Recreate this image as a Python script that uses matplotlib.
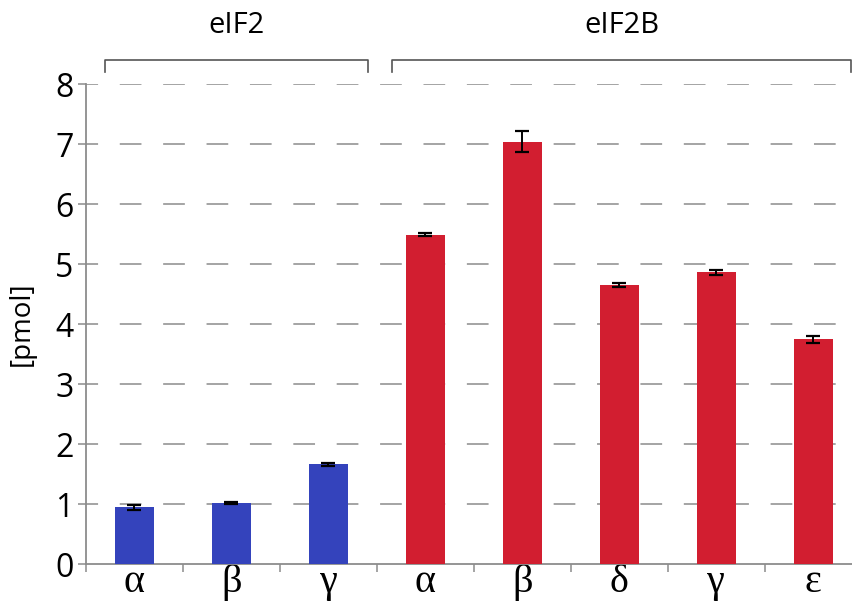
import numpy as np
import matplotlib
matplotlib.use('Agg')
import matplotlib.pyplot as plt

# data
labels = ['α', 'β', 'γ', 'α', 'β', 'δ', 'γ', 'ε']
values = [0.945, 1.02, 1.66, 5.49, 7.04, 4.65, 4.86, 3.745]
errors = [0.04, 0.02, 0.02, 0.02, 0.18, 0.035, 0.035, 0.06]
group = ['eIF2', 'eIF2', 'eIF2', 'eIF2B', 'eIF2B', 'eIF2B', 'eIF2B', 'eIF2B']

blue = '#3443BC'
red = '#D21E30'
grey = '#8c8c8c'
colors = [blue if g == 'eIF2' else red for g in group]

plt.rcParams['font.family'] = ['Open Sans', 'DejaVu Sans']

fig = plt.figure(figsize=(8.53, 6.13), dpi=100)
ax = fig.add_axes([0.1008, 0.0799, 0.8992, 0.783])

x = np.arange(len(values))
ax.bar(x, values, width=0.4, color=colors, zorder=3)
ax.errorbar(x, values, yerr=errors, fmt='none', ecolor='black',
            elinewidth=1.4, capsize=5, capthick=1.6, zorder=4)

ax.set_xlim(-0.5, 7.41)
ax.set_ylim(0, 8)
ax.set_yticks(range(0, 9))
ax.tick_params(axis='y', labelsize=23, length=6, width=1.1, color=grey, pad=3)

# category separators as x ticks, greek letters as minor labels
ax.set_xticks(np.arange(-0.5, 7.5, 1.0))
ax.set_xticklabels([])
ax.tick_params(axis='x', which='major', length=6, width=1.1, color=grey, direction='out')
ax.set_xticks(x, minor=True)
ax.set_xticklabels(labels, minor=True, fontsize=29, family=['Liberation Serif', 'DejaVu Serif'])
ax.tick_params(axis='x', which='minor', length=0, pad=0)

for sp in ['top', 'right']:
    ax.spines[sp].set_visible(False)
for sp in ['left', 'bottom']:
    ax.spines[sp].set_color(grey)
    ax.spines[sp].set_linewidth(1.3)

# dashed horizontal grid behind bars
for yv in range(1, 9):
    ax.axhline(yv, color=grey, lw=1.1, linestyle=(6.3, (14.2, 14.2)), zorder=1)

ax.set_ylabel('[pmol]', fontsize=20, labelpad=14)

# group brackets
brackets = {'eIF2': (-0.304, 2.407), 'eIF2B': (2.655, 7.39)}
for name, (x0, x1) in brackets.items():
    ax.plot([x0, x0, x1, x1], [8.2, 8.4, 8.4, 8.2], color='#555555', lw=1.2,
            clip_on=False)
    ax.text((x0 + x1) / 2, 8.98, name, ha='center', va='center', fontsize=21)

fig.savefig('out.png', dpi=100)
